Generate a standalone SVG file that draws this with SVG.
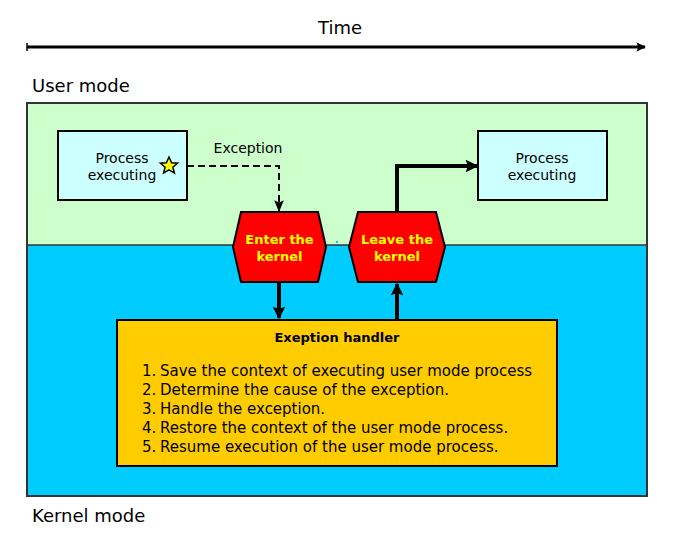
<svg xmlns="http://www.w3.org/2000/svg" width="679" height="542" viewBox="0 0 679 542">
<defs>
<style>
.t{font-family:"DejaVu Sans","Liberation Sans",sans-serif;fill:#000}
.proc{fill:#CCFFFF;stroke:#000;stroke-width:2}
.hex{fill:#FF0000;stroke:#000;stroke-width:2}
.hext{font-family:"DejaVu Sans","Liberation Sans",sans-serif;font-weight:bold;font-size:13px;fill:#FFFF00;text-anchor:middle}
.thick{fill:none;stroke:#000;stroke-width:4}
</style>
<marker id="ah" viewBox="0 0 10 10" refX="9" refY="5" markerWidth="3.2" markerHeight="3.2" orient="auto"><path d="M0,0 L10,5 L0,10 L2,5 z" fill="#000"/></marker>
<marker id="aht" viewBox="0 0 10 10" refX="9" refY="5" markerWidth="4" markerHeight="3.2" orient="auto"><path d="M0,0 L10,5 L0,10 L2,5 z" fill="#000"/></marker>
<marker id="ahd" viewBox="0 0 10 10" refX="9" refY="5" markerWidth="6" markerHeight="6" orient="auto"><path d="M0,1 L10,5 L0,9 L2,5 z" fill="#000"/></marker>
</defs>
<rect width="679" height="542" fill="#fff"/>
<g id="time">
<text class="t" x="340" y="34" font-size="18" text-anchor="middle">Time</text>
<line x1="27" y1="47" x2="645" y2="47" stroke="#000" stroke-width="3" marker-end="url(#aht)"/>
<line x1="27" y1="43" x2="27" y2="51" stroke="#000" stroke-width="1.5"/>
</g>
<text class="t" x="32" y="92" font-size="18">User mode</text>
<g id="modes">
<rect x="27" y="103" width="620" height="142" fill="#CCFFCC"/>
<rect x="27" y="245" width="620" height="251" fill="#00CCFF"/>
<line x1="27" y1="245" x2="647" y2="245" stroke="#333" stroke-width="1.5"/>
<rect x="27" y="103" width="620" height="393" fill="none" stroke="#333" stroke-width="2"/>
<rect x="336" y="241" width="2" height="2" fill="#00CCFF"/>
</g>
<text class="t" x="32" y="522" font-size="18">Kernel mode</text>
<g id="connectors">
<polyline points="176,166 279,166 279,211" fill="none" stroke="#000" stroke-width="2" stroke-dasharray="7,4" marker-end="url(#ahd)"/>
<polyline class="thick" points="397,212 397,166 477,166" marker-end="url(#ah)"/>
<line class="thick" x1="279" y1="282" x2="279" y2="318" marker-end="url(#ah)"/>
<line class="thick" x1="397" y1="320" x2="397" y2="284" marker-end="url(#ah)"/>
</g>
<text class="t" x="248" y="153" font-size="14" text-anchor="middle">Exception</text>
<g id="proc1">
<rect class="proc" x="58" y="131" width="129" height="69"/>
<text class="t" x="122" y="163" font-size="14" text-anchor="middle">Process</text>
<text class="t" x="122" y="180" font-size="14" text-anchor="middle">executing</text>
<polygon points="169,157 171.6,162.8 177.5,163.2 172.9,167.2 174.4,173 169,169.8 163.6,173 165.1,167.2 160.5,163.2 166.4,162.8" fill="#FFFF00" stroke="#000" stroke-width="1.5"/>
</g>
<g id="proc2">
<rect class="proc" x="478" y="131" width="129" height="69"/>
<text class="t" x="542" y="163" font-size="14" text-anchor="middle">Process</text>
<text class="t" x="542" y="180" font-size="14" text-anchor="middle">executing</text>
</g>
<g id="enter">
<polygon class="hex" points="241,212 318,212 326,247 318,282 241,282 233,247"/>
<text class="hext" x="279.5" y="244">Enter the</text>
<text class="hext" x="279.5" y="261">kernel</text>
</g>
<g id="leave">
<polygon class="hex" points="358,212 436,212 445,247 436,282 358,282 349,247"/>
<text class="hext" x="397" y="244">Leave the</text>
<text class="hext" x="397" y="261">kernel</text>
</g>
<g id="handler">
<rect x="117" y="320" width="440" height="146" fill="#FFCC00" stroke="#000" stroke-width="2"/>
<text class="t" x="337" y="342" font-size="13" font-weight="bold" text-anchor="middle">Exeption handler</text>
<g class="t" font-size="15">
<text x="142" y="376">1.</text><text x="160" y="376">Save the context of executing user mode process</text>
<text x="142" y="395">2.</text><text x="160" y="395">Determine the cause of the exception.</text>
<text x="142" y="414">3.</text><text x="160" y="414">Handle the exception.</text>
<text x="142" y="433">4.</text><text x="160" y="433">Restore the context of the user mode process.</text>
<text x="142" y="452">5.</text><text x="160" y="452">Resume execution of the user mode process.</text>
</g>
</g>
</svg>
